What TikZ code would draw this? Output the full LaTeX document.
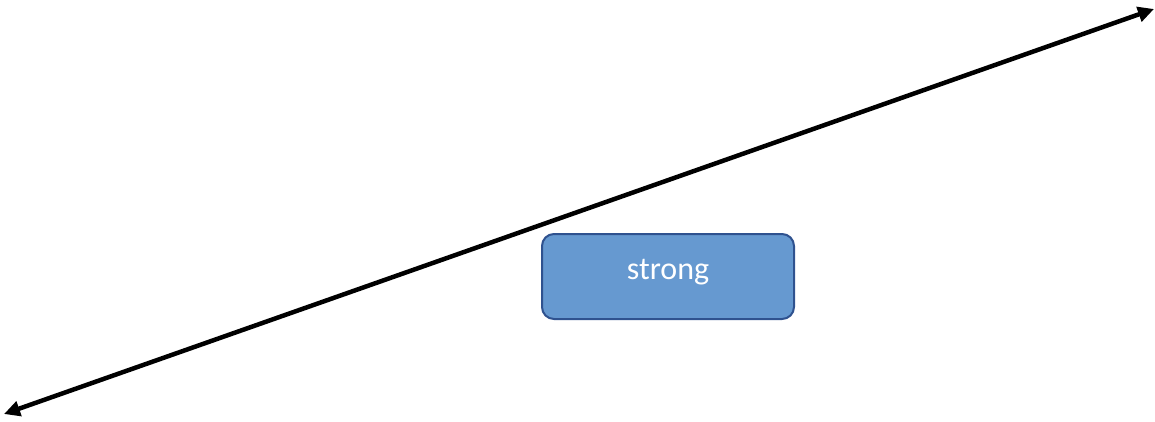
\documentclass[tikz,border=0pt]{standalone}
\usepackage{fontspec}
\setmainfont{Carlito}
\usetikzlibrary{arrows.meta}
\definecolor{boxfill}{HTML}{6699D0}
\definecolor{boxdraw}{HTML}{2F528F}
\tikzset{
  conn/.style={line width=4.5pt, {Triangle[length=16pt,width=15pt]}-{Triangle[length=16pt,width=15pt]}},
  labelbox/.style={draw=boxdraw, line width=2pt, fill=boxfill, rounded corners=12pt, minimum width=252pt, minimum height=85pt, inner sep=0pt},
  labeltext/.style={text=white, font=\fontsize{32}{36}\selectfont}
}
\begin{document}
\begin{tikzpicture}[x=1pt,y=1pt]
\useasboundingbox (0,0) rectangle (1155,421);
\coordinate (l) at (4,7);
\coordinate (r) at (1154,412);
\draw[conn] (l) -- (r);
\node[labelbox] (b) at (668,144.5) {};
\node[labeltext] (t) at (668,149) {strong};
\end{tikzpicture}
\end{document}
